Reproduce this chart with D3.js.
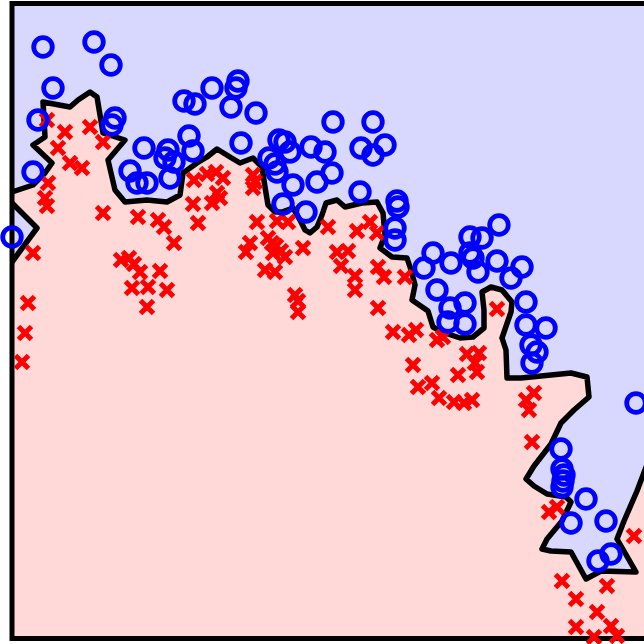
<!DOCTYPE html>
<html>
<head>
<meta charset="utf-8">
<script src="https://cdn.jsdelivr.net/npm/d3@7"></script>
<style>
  html, body { margin: 0; padding: 0; background: #ffffff; }
  svg { display: block; }
</style>
</head>
<body>
<svg id="chart" width="644" height="644"></svg>
<script>
// Class 0 samples (blue circles), [feature1, feature2]
const classA = [
  [0.31,5.915],[0.82,5.965],[0.99,5.735],[0.41,5.505],[0.26,5.185],[1.03,5.205],[1.00,5.135],
  [0.21,4.665],[0.00,4.015],[1.72,5.375],[1.83,5.345],[2.00,5.505],[2.24,5.505],[2.26,5.575],
  [2.19,5.315],[2.44,5.255],[1.32,4.905],[1.18,4.675],[1.25,4.555],[1.35,4.555],[1.56,4.885],
  [1.53,4.805],[1.62,4.765],[1.58,4.605],[1.77,5.025],[1.81,4.875],[2.29,4.955],[2.67,4.985],
  [2.73,4.965],[2.78,4.865],[2.57,4.805],[2.63,4.745],[2.65,4.665],[2.81,4.535],[2.71,4.345],
  [2.94,4.265],[2.99,4.915],[3.13,4.865],[3.20,4.655],[3.05,4.565],[3.21,5.165],[3.61,5.165],
  [3.49,4.905],[3.61,4.835],[3.73,4.935],[3.48,4.465],[3.85,4.375],[3.86,4.315],[3.83,4.105],
  [3.83,3.985],[4.21,3.855],[4.12,3.705],[4.39,3.755],[4.58,4.015],[4.70,4.005],[4.87,4.135],
  [4.58,3.855],[4.61,3.805],[4.66,3.665],[4.85,3.775],[4.99,3.605],[5.10,3.715],[4.25,3.485],
  [4.38,3.305],[4.53,3.355],[4.36,3.165],[4.53,3.145],[5.14,3.365],[5.14,3.135],[5.34,3.105],
  [5.19,2.935],[5.25,2.865],[5.20,2.755],[6.24,2.355],[5.49,1.895],[5.50,1.695],[5.52,1.635],
  [5.51,1.575],[5.50,1.515],[5.74,1.395],[5.59,1.155],[5.94,1.175],[5.86,0.775],[5.99,0.845]
];

// Class 1 samples (red crosses)
const classB = [
  [0.35,5.185],[0.53,5.065],[0.78,5.115],[0.91,4.965],[0.46,4.905],[0.58,4.755],[0.70,4.705],
  [0.36,4.555],[0.33,4.405],[0.35,4.325],[0.91,4.255],[1.26,4.215],[1.46,4.185],[1.52,4.115],
  [1.62,3.955],[0.21,3.855],[0.16,3.355],[0.13,3.055],[0.10,2.765],[1.09,3.785],[1.17,3.805],
  [1.22,3.745],[1.28,3.665],[1.48,3.675],[1.20,3.505],[1.36,3.515],[1.55,3.485],[1.35,3.315],
  [1.82,4.585],[1.95,4.645],[2.04,4.665],[2.11,4.605],[1.81,4.345],[1.86,4.155],[2.05,4.455],
  [2.08,4.405],[2.00,4.355],[2.41,4.635],[2.43,4.565],[2.41,4.505],[2.45,4.165],[2.38,3.955],
  [2.34,3.865],[2.56,4.005],[2.60,3.955],[2.64,3.925],[2.69,3.875],[2.61,3.855],[2.73,3.815],
  [2.91,3.905],[2.65,4.175],[2.76,4.165],[2.53,3.685],[2.63,3.665],[2.83,3.435],[2.86,3.375],
  [2.86,3.265],[3.16,4.115],[3.45,4.075],[3.58,4.165],[3.65,4.055],[3.25,3.865],[3.36,3.875],
  [3.29,3.725],[3.43,3.625],[3.43,3.485],[3.66,3.715],[3.72,3.615],[3.93,3.615],[3.66,3.305],
  [3.81,3.065],[3.97,3.035],[4.04,3.085],[4.25,2.985],[4.31,3.015],[4.01,2.735],[4.06,2.515],
  [4.20,2.555],[4.27,2.405],[4.55,2.845],[4.67,2.855],[4.63,2.755],[4.65,2.665],[4.46,2.635],
  [4.42,2.365],[4.52,2.355],[4.60,2.385],[4.85,3.295],[5.14,2.385],[5.22,2.455],[5.17,2.285],
  [5.20,1.965],[5.37,1.265],[5.45,1.315],[6.22,1.025],[5.50,0.575],[5.64,0.395],[5.95,0.525],
  [5.85,0.265],[5.64,0.115],[5.99,0.125],[5.82,0.015],[6.05,0.025]
];

// Decision boundary, traced left to right
const boundary = [
  [0.00,4.465],[0.21,4.535],[0.33,4.655],[0.40,4.755],[0.21,4.935],[0.33,5.015],[0.31,5.365],
  [0.58,5.315],[0.66,5.385],[0.78,5.465],[0.85,5.415],[0.88,5.235],[0.91,5.055],[1.13,4.985],
  [0.96,4.785],[1.03,4.485],[1.13,4.365],[1.35,4.385],[1.55,4.365],[1.68,4.435],[1.71,4.655],
  [1.85,4.755],[1.95,4.815],[2.05,4.895],[2.18,4.815],[2.28,4.755],[2.41,4.805],[2.50,4.715],
  [2.53,4.515],[2.56,4.335],[2.63,4.265],[2.70,4.265],[2.81,4.305],[2.88,4.185],[2.93,4.085],
  [2.98,4.055],[3.05,4.115],[3.10,4.235],[3.14,4.355],[3.25,4.385],[3.33,4.315],[3.50,4.355],
  [3.65,4.365],[3.71,4.255],[3.73,4.035],[3.68,3.905],[3.80,3.815],[3.95,3.805],[3.99,3.685],
  [4.03,3.535],[4.00,3.385],[4.16,3.275],[4.21,3.115],[4.30,3.065],[4.48,3.005],[4.61,3.015],
  [4.72,3.105],[4.72,3.285],[4.70,3.465],[4.79,3.515],[4.90,3.485],[5.00,3.365],[4.99,3.265],
  [4.90,3.005],[4.94,2.885],[4.95,2.605],[5.09,2.605],[5.39,2.635],[5.59,2.655],[5.75,2.615],
  [5.77,2.415],[5.62,2.285],[5.49,2.155],[5.39,1.945],[5.22,1.725],[5.14,1.595],[5.22,1.525],
  [5.35,1.445],[5.54,1.415],[5.59,1.365],[5.50,1.175],[5.35,0.995],[5.30,0.895],[5.39,0.875],
  [5.59,0.865],[5.74,0.595],[5.89,0.675],[6.24,0.665],[6.05,0.995],[6.12,1.175],[6.25,1.475],
  [6.345,1.725]
];

// Small class-0 pocket on the left edge
const island = [[0.00,4.355],[0.25,4.105],[0.00,3.765]];

const X_MAX = 6.345, Y_MAX = 6.35;

const svg = d3.select("#chart");
const x = d3.scaleLinear().domain([0, X_MAX]).range([12, 646.5]);
const y = d3.scaleLinear().domain([0, Y_MAX]).range([638.5, 3.5]);

const line = d3.line().x(d => x(d[0])).y(d => y(d[1]));

// Class 1 region fills the whole plot
svg.append("rect")
  .attr("x", x(0)).attr("y", y(Y_MAX))
  .attr("width", x(X_MAX) - x(0)).attr("height", y(0) - y(Y_MAX))
  .attr("fill", "#ffd8d8");

// Class 0 region: above the boundary up to the top edge
const upper = boundary.concat([[X_MAX, Y_MAX], [0, Y_MAX]]);
svg.append("path")
  .attr("d", line(upper) + "Z")
  .attr("fill", "#d8d8ff");
svg.append("path")
  .attr("d", line(island) + "Z")
  .attr("fill", "#d8d8ff");

// Boundary lines
svg.append("path")
  .attr("d", line(boundary))
  .attr("fill", "none").attr("stroke", "#000").attr("stroke-width", 5.5)
  .attr("stroke-linejoin", "round");
svg.append("path")
  .attr("d", line(island))
  .attr("fill", "none").attr("stroke", "#000").attr("stroke-width", 5.5)
  .attr("stroke-linejoin", "round");

// Frame
const frame = svg.append("g").attr("stroke", "#000").attr("stroke-width", 5).attr("fill", "none");
frame.append("rect")
  .attr("x", x(0)).attr("y", y(Y_MAX))
  .attr("width", x(X_MAX) - x(0)).attr("height", y(0) - y(Y_MAX));

// Markers
svg.append("g").selectAll("path")
  .data(classB).join("path")
  .attr("transform", d => `translate(${x(d[0])},${y(d[1])})`)
  .attr("d", "M-6.5,-6.5L6.5,6.5M-6.5,6.5L6.5,-6.5")
  .attr("stroke", "#ff0000").attr("stroke-width", 5).attr("fill", "none");

svg.append("g").selectAll("circle")
  .data(classA).join("circle")
  .attr("cx", d => x(d[0])).attr("cy", d => y(d[1]))
  .attr("r", 9.3)
  .attr("fill", "none").attr("stroke", "#0000ff").attr("stroke-width", 4.8);
</script>
</body>
</html>
